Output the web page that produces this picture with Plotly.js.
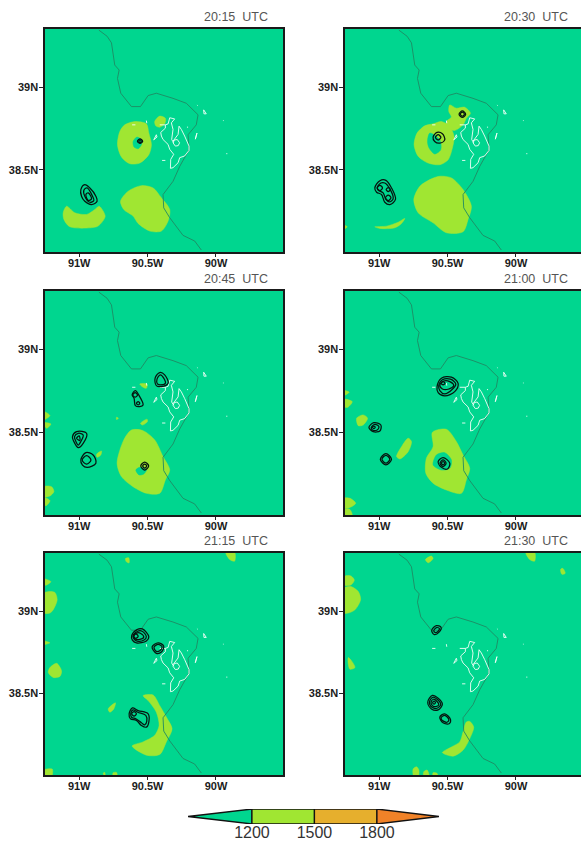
<!DOCTYPE html>
<html><head><meta charset="utf-8">
<script src="https://cdn.plot.ly/plotly-3.0.1.min.js"></script>
<style>html,body{margin:0;padding:0;background:#fff;overflow:hidden}</style>
</head><body><div id="chart"></div>
<script>
// ---- data (longitude, latitude pairs) ----
const panelTitles = ['20:15\u00a0\u00a0UTC','20:30\u00a0\u00a0UTC','20:45\u00a0\u00a0UTC','21:00\u00a0\u00a0UTC','21:15\u00a0\u00a0UTC','21:30\u00a0\u00a0UTC'];
const lonTicks = [-91,-90.5,-90];
const lonLabels = ['91W','90.5W','90W'];
const latTicks = [38.5,39];
const latLabels = ['38.5N','39N'];
const levels = [1200,1500,1800];
const levelEnds = [893,2098];

const stateLine = [[-90.856,39.347],[-90.796,39.310],[-90.764,39.270],[-90.752,39.185],[-90.740,39.135],[-90.708,39.105],[-90.720,39.054],[-90.696,38.964],[-90.618,38.883],[-90.552,38.883],[-90.496,38.950],[-90.436,38.964],[-90.314,38.933],[-90.217,38.903],[-90.131,38.833],[-90.144,38.772],[-90.204,38.712],[-90.197,38.621],[-90.265,38.520],[-90.314,38.429],[-90.387,38.349],[-90.382,38.268],[-90.338,38.208],[-90.241,38.101],[-90.156,38.067],[-90.107,38.012]];

const whiteLines = [
 [[-90.270,38.764],[-90.253,38.744],[-90.229,38.704],[-90.197,38.643],[-90.197,38.617],[-90.229,38.583],[-90.265,38.573],[-90.277,38.542],[-90.314,38.512],[-90.333,38.508],[-90.331,38.562],[-90.309,38.593],[-90.338,38.623],[-90.350,38.653],[-90.387,38.683],[-90.399,38.704],[-90.404,38.726],[-90.370,38.752],[-90.370,38.772],[-90.350,38.778],[-90.338,38.815],[-90.302,38.808],[-90.326,38.784],[-90.314,38.744],[-90.324,38.683],[-90.309,38.663]],
 [[-90.411,38.772],[-90.370,38.772]],
 [[-90.270,38.764],[-90.277,38.714],[-90.314,38.673]],
 [[-90.266,38.663],[-90.283,38.683],[-90.304,38.680],[-90.314,38.663],[-90.297,38.643],[-90.276,38.646],[-90.266,38.663]],
 [[-90.455,38.681],[-90.436,38.712],[-90.431,38.698],[-90.448,38.681],[-90.455,38.681]],
 [[-90.394,38.556],[-90.370,38.556]],
 [[-90.151,38.685],[-90.139,38.722],[-90.148,38.697],[-90.151,38.685]],
 [[-90.090,38.863],[-90.071,38.839],[-90.088,38.839],[-90.090,38.863]],
 [[-90.613,38.772],[-90.589,38.772]],
 [[-90.509,38.798],[-90.506,38.782]],
 [[-90.139,38.893],[-90.134,38.889]],
 [[-89.949,38.798],[-89.944,38.798]],
 [[-89.925,38.597],[-89.917,38.597]],
 [[-90.212,38.758],[-90.204,38.758]]
];

const blobs1 = [
 [[-90.594,38.792],[-90.509,38.778],[-90.491,38.722],[-90.472,38.651],[-90.491,38.591],[-90.557,38.540],[-90.630,38.536],[-90.691,38.577],[-90.720,38.651],[-90.703,38.732],[-90.667,38.772]],
 [[-90.448,38.792],[-90.411,38.825],[-90.370,38.812],[-90.375,38.778],[-90.411,38.758],[-90.440,38.766]],
 [[-90.545,38.403],[-90.460,38.389],[-90.399,38.329],[-90.338,38.258],[-90.350,38.188],[-90.399,38.127],[-90.484,38.127],[-90.569,38.173],[-90.606,38.218],[-90.674,38.258],[-90.698,38.308],[-90.642,38.369]],
 [[-91.092,38.278],[-91.032,38.238],[-90.946,38.228],[-90.886,38.258],[-90.854,38.278],[-90.810,38.218],[-90.837,38.177],[-90.873,38.153],[-91.068,38.153],[-91.112,38.198],[-91.117,38.238]]
];
const holes1 = [[[-90.606,38.671],[-90.577,38.698],[-90.545,38.681],[-90.545,38.651],[-90.569,38.627],[-90.599,38.637]]];
const rings1 = [
 [[-90.536,38.673],[-90.555,38.687],[-90.574,38.673],[-90.555,38.659]],
 [[-90.546,38.673],[-90.555,38.681],[-90.564,38.673],[-90.555,38.665]],
 [[-90.988,38.379],[-90.959,38.409],[-90.922,38.389],[-90.878,38.339],[-90.869,38.308],[-90.910,38.288],[-90.959,38.308],[-90.983,38.339]],
 [[-90.966,38.375],[-90.942,38.389],[-90.903,38.339],[-90.893,38.313],[-90.922,38.302],[-90.959,38.339]],
 [[-90.951,38.349],[-90.934,38.359],[-90.910,38.323],[-90.934,38.313]]
];

const blobs2 = [
 [[-90.606,38.778],[-90.545,38.792],[-90.484,38.762],[-90.453,38.702],[-90.465,38.631],[-90.496,38.560],[-90.557,38.530],[-90.642,38.540],[-90.715,38.581],[-90.745,38.651],[-90.723,38.722],[-90.667,38.766]],
 [[-90.484,38.893],[-90.436,38.873],[-90.375,38.879],[-90.333,38.843],[-90.363,38.812],[-90.387,38.772],[-90.448,38.738],[-90.496,38.752],[-90.509,38.792],[-90.472,38.819],[-90.491,38.853]],
 [[-90.557,38.460],[-90.472,38.450],[-90.387,38.379],[-90.326,38.278],[-90.350,38.198],[-90.387,38.123],[-90.509,38.117],[-90.606,38.177],[-90.715,38.238],[-90.747,38.319],[-90.703,38.399],[-90.618,38.444]],
 [[-91.032,38.153],[-90.946,38.157],[-90.861,38.181],[-90.813,38.204],[-90.837,38.173],[-90.886,38.147],[-90.995,38.143]],
 [[-91.26,38.165],[-91.234,38.153],[-91.26,38.137]]
];
const holes2 = [[[-90.630,38.722],[-90.557,38.681],[-90.550,38.621],[-90.594,38.595],[-90.635,38.631],[-90.647,38.671]]];
const rings2 = [
 [[-91.032,38.389],[-90.995,38.433],[-90.951,38.435],[-90.910,38.389],[-90.881,38.319],[-90.922,38.288],[-90.959,38.302],[-90.983,38.349],[-91.019,38.363]],
 [[-91.015,38.389],[-90.988,38.419],[-90.959,38.419],[-90.922,38.383],[-90.898,38.323],[-90.927,38.304],[-90.951,38.319],[-90.971,38.359],[-91.007,38.375]],
 [[-90.976,38.389],[-90.995,38.405],[-91.014,38.389],[-90.995,38.373]],
 [[-90.914,38.329],[-90.934,38.346],[-90.954,38.329],[-90.934,38.312]],
 [[-90.919,38.379],[-90.934,38.391],[-90.949,38.379],[-90.934,38.367]],
 [[-90.368,38.837],[-90.392,38.857],[-90.416,38.837],[-90.392,38.817]],
 [[-90.377,38.837],[-90.392,38.849],[-90.407,38.837],[-90.392,38.825]],
 [[-90.606,38.698],[-90.577,38.726],[-90.538,38.718],[-90.521,38.681],[-90.557,38.661],[-90.594,38.671]],
 [[-90.549,38.696],[-90.569,38.712],[-90.589,38.696],[-90.569,38.680]]
];

const blobs3 = [
 [[-90.618,38.514],[-90.533,38.510],[-90.448,38.454],[-90.387,38.353],[-90.338,38.272],[-90.370,38.212],[-90.411,38.131],[-90.509,38.131],[-90.606,38.171],[-90.691,38.232],[-90.723,38.313],[-90.674,38.454]],
 [[-90.557,38.792],[-90.504,38.792],[-90.509,38.766],[-90.533,38.772]],
 [[-90.552,38.554],[-90.504,38.579],[-90.501,38.565],[-90.538,38.544]],
 [[-90.873,38.367],[-90.837,38.387],[-90.842,38.363],[-90.869,38.349]],
 [[-91.26,38.625],[-91.214,38.601],[-91.26,38.575]],
 [[-91.26,38.558],[-91.207,38.550],[-91.238,38.524]],
 [[-91.26,38.171],[-91.202,38.171],[-91.185,38.141],[-91.214,38.115],[-91.26,38.111]],
 [[-91.26,38.107],[-91.214,38.087],[-91.238,38.058],[-91.26,38.058]],
 [[-90.727,38.591],[-90.713,38.585],[-90.727,38.577]]
];
const holes3 = [[[-90.586,38.272],[-90.557,38.288],[-90.509,38.272],[-90.528,38.248],[-90.562,38.242]]];
const rings3 = [
 [[-90.445,38.827],[-90.411,38.861],[-90.375,38.847],[-90.350,38.796],[-90.399,38.776],[-90.436,38.782]],
 [[-90.431,38.821],[-90.406,38.847],[-90.382,38.827],[-90.370,38.796],[-90.406,38.786],[-90.428,38.792]],
 [[-90.613,38.726],[-90.589,38.752],[-90.565,38.726],[-90.533,38.665],[-90.557,38.655],[-90.589,38.661],[-90.599,38.706]],
 [[-90.574,38.726],[-90.591,38.740],[-90.608,38.726],[-90.591,38.712]],
 [[-90.557,38.675],[-90.569,38.685],[-90.581,38.675],[-90.569,38.665]],
 [[-91.049,38.474],[-91.019,38.504],[-90.946,38.494],[-90.971,38.433],[-91.007,38.407],[-91.032,38.433]],
 [[-91.034,38.474],[-91.007,38.494],[-90.971,38.484],[-90.988,38.444],[-91.007,38.423],[-91.024,38.444]],
 [[-91.019,38.464],[-91.000,38.478],[-90.995,38.450]],
 [[-90.988,38.333],[-90.951,38.377],[-90.898,38.363],[-90.878,38.313],[-90.942,38.288],[-90.976,38.302]],
 [[-90.914,38.333],[-90.946,38.359],[-90.978,38.333],[-90.946,38.307]],
 [[-90.492,38.296],[-90.521,38.320],[-90.550,38.296],[-90.521,38.272]],
 [[-90.506,38.296],[-90.521,38.308],[-90.536,38.296],[-90.521,38.284]]
];

const blobs4 = [
 [[-90.611,38.500],[-90.509,38.518],[-90.436,38.444],[-90.387,38.363],[-90.338,38.282],[-90.363,38.212],[-90.399,38.131],[-90.509,38.151],[-90.606,38.192],[-90.659,38.252],[-90.655,38.343],[-90.606,38.413]],
 [[-91.165,38.585],[-91.117,38.605],[-91.085,38.585],[-91.117,38.544],[-91.153,38.540]],
 [[-90.873,38.353],[-90.837,38.413],[-90.788,38.464],[-90.764,38.444],[-90.788,38.383],[-90.849,38.339]],
 [[-91.26,38.700],[-91.197,38.685],[-91.230,38.651],[-91.26,38.655]],
 [[-91.26,38.752],[-91.219,38.742],[-91.26,38.722]],
 [[-91.26,38.101],[-91.214,38.101],[-91.172,38.071],[-91.214,38.046],[-91.26,38.046]],
 [[-91.26,38.036],[-91.214,38.034],[-91.197,37.99],[-91.26,37.99]]
];
const holes4 = [[[-90.606,38.302],[-90.582,38.363],[-90.521,38.377],[-90.472,38.333],[-90.484,38.282],[-90.545,38.272]]];
const rings4 = [
 [[-90.577,38.776],[-90.545,38.827],[-90.472,38.833],[-90.423,38.796],[-90.448,38.746],[-90.521,38.720],[-90.569,38.740]],
 [[-90.565,38.780],[-90.538,38.817],[-90.479,38.821],[-90.440,38.792],[-90.465,38.760],[-90.521,38.732],[-90.557,38.752]],
 [[-90.557,38.786],[-90.528,38.810],[-90.484,38.806],[-90.455,38.782],[-90.496,38.760],[-90.538,38.762]],
 [[-90.519,38.796],[-90.533,38.806],[-90.547,38.796],[-90.533,38.786]],
 [[-91.075,38.530],[-91.039,38.558],[-90.988,38.544],[-90.995,38.508],[-91.044,38.504]],
 [[-91.058,38.528],[-91.032,38.548],[-91.002,38.534],[-91.015,38.514],[-91.049,38.514]],
 [[-91.029,38.530],[-91.039,38.538],[-91.049,38.530],[-91.039,38.522]],
 [[-90.910,38.337],[-90.951,38.371],[-90.992,38.337],[-90.951,38.303]],
 [[-90.922,38.337],[-90.951,38.361],[-90.980,38.337],[-90.951,38.313]],
 [[-90.569,38.323],[-90.533,38.347],[-90.484,38.313],[-90.501,38.278],[-90.545,38.288]],
 [[-90.511,38.313],[-90.533,38.333],[-90.555,38.313],[-90.533,38.293]],
 [[-90.521,38.313],[-90.533,38.323],[-90.545,38.313],[-90.533,38.303]]
];

const blobs5 = [
 [[-90.533,38.484],[-90.460,38.488],[-90.411,38.423],[-90.363,38.353],[-90.321,38.282],[-90.363,38.202],[-90.411,38.125],[-90.509,38.121],[-90.613,38.177],[-90.533,38.202],[-90.448,38.242],[-90.416,38.302],[-90.436,38.383],[-90.496,38.454]],
 [[-91.214,38.655],[-91.165,38.681],[-91.129,38.635],[-91.141,38.601],[-91.190,38.595],[-91.226,38.625]],
 [[-91.26,39.109],[-91.180,39.115],[-91.161,39.069],[-91.190,39.008],[-91.214,38.988],[-91.26,38.988]],
 [[-91.26,39.196],[-91.207,39.179],[-91.238,39.159],[-91.26,39.159]],
 [[-91.26,38.817],[-91.214,38.806],[-91.26,38.796]],
 [[-90.662,39.320],[-90.638,39.325],[-90.635,39.294],[-90.655,39.300]],
 [[-89.929,39.36],[-89.864,39.36],[-89.864,39.304],[-89.900,39.314]],
 [[-90.788,38.403],[-90.735,38.440],[-90.747,38.403],[-90.776,38.383]],
 [[-91.26,38.030],[-91.197,38.036],[-91.202,37.99],[-91.26,37.99]],
 [[-90.825,38.010],[-90.813,38.016],[-90.810,37.99]],
 [[-90.752,38.014],[-90.727,38.016],[-90.723,37.99],[-90.752,37.99]]
];
const holes5 = [];
const rings5 = [
 [[-90.616,38.851],[-90.577,38.887],[-90.538,38.891],[-90.491,38.843],[-90.509,38.817],[-90.582,38.806],[-90.611,38.823]],
 [[-90.606,38.851],[-90.572,38.877],[-90.540,38.877],[-90.509,38.843],[-90.526,38.823],[-90.577,38.817],[-90.601,38.831]],
 [[-90.599,38.851],[-90.575,38.867],[-90.550,38.863],[-90.528,38.841],[-90.557,38.827],[-90.594,38.831]],
 [[-90.569,38.847],[-90.586,38.861],[-90.603,38.847],[-90.586,38.833]],
 [[-90.467,38.782],[-90.423,38.806],[-90.382,38.786],[-90.399,38.750],[-90.436,38.742]],
 [[-90.453,38.780],[-90.423,38.796],[-90.394,38.782],[-90.411,38.758],[-90.436,38.754]],
 [[-90.635,38.373],[-90.611,38.409],[-90.569,38.393],[-90.496,38.373],[-90.491,38.323],[-90.509,38.292],[-90.545,38.302],[-90.582,38.333],[-90.625,38.343]],
 [[-90.623,38.373],[-90.606,38.397],[-90.572,38.383],[-90.513,38.363],[-90.506,38.327],[-90.521,38.306],[-90.545,38.319],[-90.586,38.343],[-90.616,38.351]],
 [[-90.582,38.373],[-90.599,38.387],[-90.616,38.373],[-90.599,38.359]]
];

const blobs6 = [
 [[-90.363,38.323],[-90.338,38.327],[-90.309,38.292],[-90.338,38.222],[-90.387,38.151],[-90.460,38.115],[-90.538,38.137],[-90.472,38.171],[-90.411,38.202],[-90.387,38.262]],
 [[-91.26,39.139],[-91.207,39.149],[-91.153,39.119],[-91.136,39.069],[-91.177,39.008],[-91.226,38.988],[-91.26,38.988]],
 [[-91.26,39.210],[-91.207,39.214],[-91.182,39.189],[-91.207,39.159],[-91.26,39.159]],
 [[-91.226,38.716],[-91.202,38.696],[-91.177,38.655],[-91.214,38.645],[-91.226,38.675]],
 [[-90.662,39.314],[-90.618,39.335],[-90.606,39.320],[-90.642,39.294]],
 [[-89.929,39.36],[-89.864,39.36],[-89.864,39.304],[-89.900,39.314]],
 [[-89.674,39.254],[-89.657,39.260],[-89.640,39.230],[-89.664,39.224]],
 [[-90.752,38.036],[-90.727,38.050],[-90.710,38.030],[-90.715,37.99],[-90.747,37.99]],
 [[-90.674,38.020],[-90.650,38.030],[-90.635,37.99],[-90.674,37.99]],
 [[-90.606,38.014],[-90.577,38.010],[-90.569,37.99],[-90.606,37.99]]
];
const holes6 = [];
const rings6 = [
 [[-90.616,38.883],[-90.582,38.911],[-90.548,38.901],[-90.562,38.871],[-90.599,38.857]],
 [[-90.601,38.881],[-90.580,38.899],[-90.560,38.893],[-90.569,38.877],[-90.591,38.869]],
 [[-90.645,38.444],[-90.611,38.486],[-90.569,38.468],[-90.538,38.433],[-90.569,38.397],[-90.618,38.403]],
 [[-90.633,38.444],[-90.608,38.474],[-90.574,38.460],[-90.550,38.431],[-90.577,38.407],[-90.613,38.413]],
 [[-90.621,38.444],[-90.603,38.462],[-90.579,38.450],[-90.564,38.429],[-90.586,38.417],[-90.611,38.423]],
 [[-90.589,38.442],[-90.599,38.451],[-90.609,38.442],[-90.599,38.433]],
 [[-90.557,38.353],[-90.521,38.373],[-90.479,38.339],[-90.489,38.313],[-90.533,38.319]],
 [[-90.548,38.349],[-90.521,38.363],[-90.491,38.339],[-90.501,38.323],[-90.528,38.327]]
];

const panelBlobs = [blobs1,blobs2,blobs3,blobs4,blobs5,blobs6];
const panelHoles = [holes1,holes2,holes3,holes4,holes5,holes6];
const panelRings = [rings1,rings2,rings3,rings4,rings5,rings6];

// ---- styles and layout ----
const W = 600, H = 844;
const cLow = '#00D68F', cMid = '#A0E632', cHigh = '#E6AF2D', cTop = '#F08228';
const colsPx = [[45,283],[345,583]];
const rowsPx = [[29,252],[291,515],[553,775]];
const lonRange = [-91.25,-89.51];
const latRange = [38.0,39.354];
const tickFont = {family:'Liberation Sans',size:11,color:'#1c1c1c',weight:700};

const data = [];
const layout = {width:W,height:H,margin:{l:0,r:0,t:0,b:0},paper_bgcolor:'#fff',plot_bgcolor:cLow,showlegend:false,annotations:[]};
const closed = p => p.concat([p[0]]);
const xs = p => p.map(d=>d[0]);
const ys = p => p.map(d=>d[1]);

panelTitles.forEach((title,i)=>{
  const n = i===0 ? '' : String(i+1);
  const c = colsPx[i%2], r = rowsPx[Math.floor(i/2)];
  layout['xaxis'+n] = {domain:[c[0]/W,c[1]/W],range:lonRange,anchor:'y'+n,tickmode:'array',tickvals:lonTicks,ticktext:lonLabels,
    ticks:'outside',ticklen:3,tickcolor:'#222',showgrid:false,zeroline:false,showline:true,mirror:true,linecolor:'#1a1a1a',linewidth:1.6,
    ticklabelstandoff:-3,tickfont:tickFont};
  layout['yaxis'+n] = {domain:[1-r[1]/H,1-r[0]/H],range:latRange,anchor:'x'+n,tickmode:'array',tickvals:latTicks,ticktext:latLabels,
    ticks:'outside',ticklen:4,tickcolor:'#222',showgrid:false,zeroline:false,showline:true,mirror:true,linecolor:'#1a1a1a',linewidth:1.6,
    ticklabelstandoff:-1,tickfont:tickFont};
  layout.annotations.push({xref:'x'+n+' domain',yref:'y'+n+' domain',x:0.945,y:1+12/(r[1]-r[0]),xanchor:'right',yanchor:'middle',
    showarrow:false,text:title,font:{family:'Liberation Sans',size:12.5,color:'#555'}});
  const ax = {xaxis:'x'+n,yaxis:'y'+n,hoverinfo:'skip',showlegend:false};
  panelBlobs[i].forEach(p=>data.push({...ax,type:'scatter',mode:'lines',x:xs(closed(p)),y:ys(closed(p)),fill:'toself',fillcolor:cMid,line:{color:cMid,width:0.5,shape:'spline',smoothing:0.8}}));
  panelHoles[i].forEach(p=>data.push({...ax,type:'scatter',mode:'lines',x:xs(closed(p)),y:ys(closed(p)),fill:'toself',fillcolor:cLow,line:{color:cLow,width:0.5,shape:'spline',smoothing:0.8}}));
  data.push({...ax,type:'scatter',mode:'lines',x:xs(stateLine),y:ys(stateLine),line:{color:'#1F8A63',width:0.9}});
  whiteLines.forEach(p=>data.push({...ax,type:'scatter',mode:'lines',x:xs(p),y:ys(p),line:{color:'#F4FFF8',width:0.9}}));
  panelRings[i].forEach(p=>data.push({...ax,type:'scatter',mode:'lines',x:xs(closed(p)),y:ys(closed(p)),line:{color:'#06140f',width:1.25,shape:'spline',smoothing:1}}));
});

// colour key
const bx = {xaxis:'x7',yaxis:'y7',hoverinfo:'skip',showlegend:false,type:'scatter',mode:'lines',fill:'toself',line:{color:'#111',width:1.3}};
data.push({...bx,x:[levelEnds[0],levels[0],levels[0],levelEnds[0]],y:[0.5,1,0,0.5],fillcolor:cLow});
data.push({...bx,x:[levels[0],levels[1],levels[1],levels[0],levels[0]],y:[0,0,1,1,0],fillcolor:cMid});
data.push({...bx,x:[levels[1],levels[2],levels[2],levels[1],levels[1]],y:[0,0,1,1,0],fillcolor:cHigh});
data.push({...bx,x:[levels[2],levelEnds[1],levels[2],levels[2]],y:[1,0.5,0,1],fillcolor:cTop});
layout.xaxis7 = {domain:[188/W,439/W],range:levelEnds,anchor:'y7',tickmode:'array',tickvals:levels,ticktext:levels.map(String),
  ticks:'',showgrid:false,zeroline:false,showline:false,ticklabelstandoff:-3,tickfont:{family:'Liberation Sans',size:16,color:'#333'}};
layout.yaxis7 = {domain:[1-824/H,1-809/H],range:[0,1],anchor:'x7',showticklabels:false,ticks:'',showgrid:false,zeroline:false,showline:false};
layout.shapes = [{type:'rect',xref:'x7 domain',yref:'y7 domain',x0:-0.01,x1:1.01,y0:-0.1,y1:1.1,fillcolor:'#fff',line:{width:0},layer:'below'}];

Plotly.newPlot('chart',data,layout,{displayModeBar:false,staticPlot:true});
</script></body></html>
